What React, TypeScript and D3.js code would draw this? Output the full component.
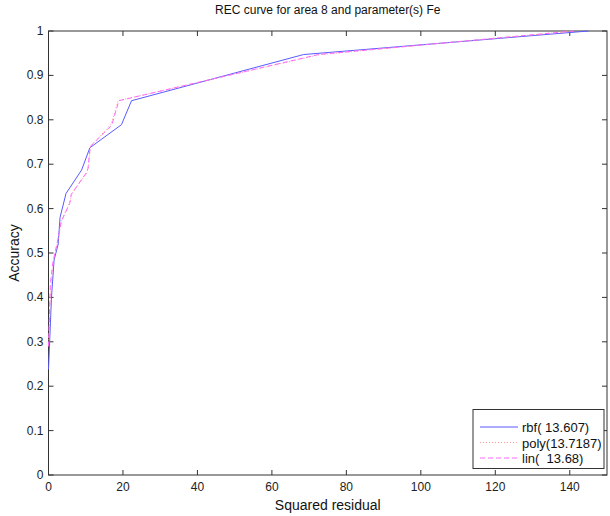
import React, { useEffect, useRef } from 'react';
import * as d3 from 'd3';

// REC curve points: [squared residual, accuracy]
const rbfPoints: [number, number][] = [
  [0, 0.238], [0.8, 0.4], [1.5, 0.484], [2.6, 0.52], [3.1, 0.58], [4.7, 0.634],
  [8.9, 0.687], [11.1, 0.737], [19.6, 0.789], [22.3, 0.843], [68.5, 0.947], [145, 1.0],
];
const polyPoints: [number, number][] = [
  [0, 0.29], [0.6, 0.42], [1.3, 0.48], [2.6, 0.53], [3.5, 0.575], [5.8, 0.615],
  [6.2, 0.632], [10.2, 0.68], [10.7, 0.69], [11.3, 0.74], [16.8, 0.79], [18.7, 0.843],
  [73, 0.947], [141, 1.0],
];
const linPoints: [number, number][] = [
  [0, 0.29], [0.5, 0.43], [1.2, 0.48], [2.5, 0.53], [3.4, 0.57], [5.7, 0.612],
  [6.1, 0.632], [10.1, 0.68], [10.6, 0.69], [11.2, 0.74], [17.0, 0.788], [18.9, 0.843],
  [72.5, 0.947], [141, 1.0],
];

const seriesNames = ['rbf( 13.607)', 'poly(13.7187)', 'lin(  13.68)'];
const seriesColors = ['#5a5aff', '#ff9a9a', '#ff66ff'];
const seriesDash = ['none', '1,2', '5,3'];

const xTicks = [0, 20, 40, 60, 80, 100, 120, 140];
const yTicks = [0, 0.1, 0.2, 0.3, 0.4, 0.5, 0.6, 0.7, 0.8, 0.9, 1];

const W = 610;
const H = 516;

export default function App() {
  const ref = useRef<SVGSVGElement>(null);

  useEffect(() => {
    const svg = d3.select(ref.current);
    svg.selectAll('*').remove();

    const margin = { top: 31, right: 3, bottom: 41, left: 48.5 };
    const font = 'Liberation Sans, Arial, sans-serif';
    const axisColor = '#333';

    const x = d3.scaleLinear().domain([0, 150]).range([margin.left, W - margin.right]);
    const y = d3.scaleLinear().domain([0, 1]).range([H - margin.bottom, margin.top]);

    svg.append('rect').attr('width', W).attr('height', H).attr('fill', 'white');

    // frame
    svg.append('rect')
      .attr('x', x(0)).attr('y', y(1))
      .attr('width', x(150) - x(0)).attr('height', y(0) - y(1))
      .attr('fill', 'white').attr('stroke', axisColor).attr('stroke-width', 1);

    // ticks, inward on all four sides
    const tick = 5;
    xTicks.forEach((t) => {
      svg.append('line').attr('x1', x(t)).attr('x2', x(t)).attr('y1', y(0)).attr('y2', y(0) - tick).attr('stroke', axisColor);
      svg.append('line').attr('x1', x(t)).attr('x2', x(t)).attr('y1', y(1)).attr('y2', y(1) + tick).attr('stroke', axisColor);
      svg.append('text')
        .attr('x', x(t)).attr('y', y(0) + 16)
        .attr('text-anchor', 'middle')
        .style('font-family', font).style('font-size', '12px').attr('fill', '#222')
        .text(t);
    });
    yTicks.forEach((t) => {
      svg.append('line').attr('x1', x(0)).attr('x2', x(0) + tick).attr('y1', y(t)).attr('y2', y(t)).attr('stroke', axisColor);
      svg.append('line').attr('x1', x(150)).attr('x2', x(150) - tick).attr('y1', y(t)).attr('y2', y(t)).attr('stroke', axisColor);
      svg.append('text')
        .attr('x', x(0) - 5).attr('y', y(t) + 4)
        .attr('text-anchor', 'end')
        .style('font-family', font).style('font-size', '12px').attr('fill', '#222')
        .text(t === 0 || t === 1 ? String(t) : t.toFixed(1));
    });

    // curves
    const line = d3.line<[number, number]>()
      .x((d) => x(d[0]))
      .y((d) => y(d[1]));

    [rbfPoints, polyPoints, linPoints].forEach((pts, i) => {
      svg.append('path')
        .datum(pts)
        .attr('d', line)
        .attr('fill', 'none')
        .attr('stroke', seriesColors[i])
        .attr('stroke-width', 1)
        .attr('stroke-dasharray', seriesDash[i]);
    });

    // title + labels
    svg.append('text')
      .attr('x', (x(0) + x(150)) / 2).attr('y', 14)
      .attr('text-anchor', 'middle')
      .style('font-family', font).style('font-size', '12px').attr('fill', '#111')
      .text('REC curve for area 8 and parameter(s) Fe');

    svg.append('text')
      .attr('x', (x(0) + x(150)) / 2).attr('y', 510)
      .attr('text-anchor', 'middle')
      .style('font-family', font).style('font-size', '14px').attr('fill', '#111')
      .text('Squared residual');

    svg.append('text')
      .attr('transform', `translate(19,${(y(0) + y(1)) / 2}) rotate(-90)`)
      .attr('text-anchor', 'middle')
      .style('font-family', font).style('font-size', '14px').attr('fill', '#111')
      .text('Accuracy');

    // legend
    const lg = svg.append('g');
    lg.append('rect')
      .attr('x', 473).attr('y', 409.5).attr('width', 131).attr('height', 59)
      .attr('fill', 'white').attr('stroke', axisColor);
    seriesNames.forEach((name, i) => {
      const ly = 427 + i * 15.5;
      lg.append('line')
        .attr('x1', 480).attr('x2', 518).attr('y1', ly).attr('y2', ly)
        .attr('stroke', seriesColors[i]).attr('stroke-width', 1.2)
        .attr('stroke-dasharray', seriesDash[i]);
      lg.append('text')
        .attr('x', 522).attr('y', ly + 5)
        .style('font-family', font).style('font-size', '13px').attr('fill', '#111')
        .style('white-space', 'pre')
        .text(name);
    });
  }, []);

  return (
    <svg
      ref={ref}
      width={W}
      height={H}
      style={{ position: 'absolute', left: 0, top: 0, display: 'block' }}
    />
  );
}
